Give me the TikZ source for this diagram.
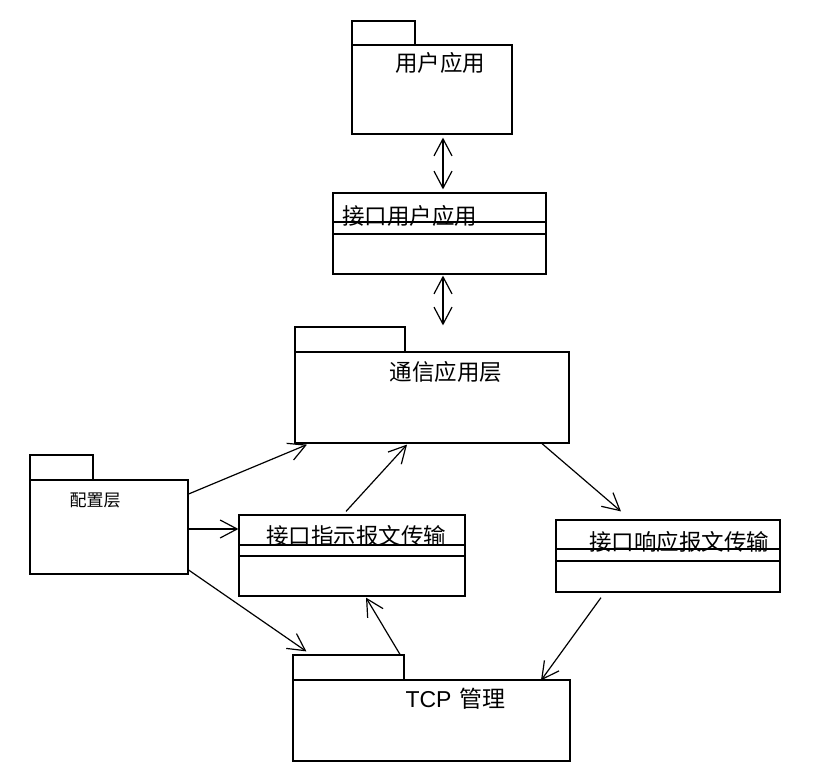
\documentclass[tikz,border=0pt]{standalone}
\usepackage{fontspec}
\setmainfont{Liberation Sans}
\newfontfamily\cjk{Noto Sans CJK SC}
\usetikzlibrary{arrows.meta}
\tikzset{
  box/.style={draw, line width=1.2pt, inner sep=0pt, fill=white},
  lbl/.style={inner sep=0pt, font=\cjk\fontsize{22.5}{26}\selectfont},
  small/.style={inner sep=0pt, font=\cjk\fontsize{17}{20}\selectfont},
  conn/.style={line width=1.2pt, -{Straight Barb[length=17pt,width=18pt,line width=1.2pt]}},
  dconn/.style={line width=1.2pt, {Straight Barb[length=17pt,width=18pt,line width=1.2pt]}-{Straight Barb[length=17pt,width=18pt,line width=1.2pt]}},
  sep/.style={line width=1.2pt}
}
\begin{document}
\begin{tikzpicture}[x=1pt,y=-1pt]
\useasboundingbox (0,0) rectangle (814,781);

% user app package
\node[box, minimum width=63pt, minimum height=24pt] (uatab) at (383.5,33) {};
\node[box, minimum width=160pt, minimum height=89pt] (ua) at (432,89.5) {};
\node[lbl] (uat) at (440,63) {用户应用};

% interface user app class
\node[box, minimum width=213pt, minimum height=81pt] (iua) at (439.5,233.5) {};
\draw[sep] (iua.west |- 0,222) -- (iua.east |- 0,222);
\draw[sep] (iua.west |- 0,234) -- (iua.east |- 0,234);
\node[lbl] (iuat) at (409.5,216) {接口用户应用};

% communication layer package
\node[box, minimum width=110pt, minimum height=25pt] (commtab) at (350,339.5) {};
\node[box, minimum width=274pt, minimum height=91pt] (comm) at (432,397.5) {};
\node[lbl] (commt) at (446,372) {通信应用层};

% config layer package
\node[box, minimum width=63pt, minimum height=25pt] (cfgtab) at (61.5,467.5) {};
\node[box, minimum width=158pt, minimum height=94pt] (cfg) at (109,527) {};
\node[small] (cfgt) at (95,500) {配置层};

% indication class
\node[box, minimum width=226pt, minimum height=81pt] (ind) at (352,555.5) {};
\draw[sep] (ind.west |- 0,545) -- (ind.east |- 0,545);
\draw[sep] (ind.west |- 0,556) -- (ind.east |- 0,556);
\node[lbl] (indt) at (356,536) {接口指示报文传输};

% response class
\node[box, minimum width=224pt, minimum height=72pt] (rsp) at (668,556) {};
\draw[sep] (rsp.west |- 0,549) -- (rsp.east |- 0,549);
\draw[sep] (rsp.west |- 0,561) -- (rsp.east |- 0,561);
\node[lbl] (rspt) at (679,542) {接口响应报文传输};

% TCP package
\node[box, minimum width=111pt, minimum height=25pt] (tcptab) at (348.5,667.5) {};
\node[box, minimum width=277pt, minimum height=81pt] (tcp) at (431.5,720.5) {};
\node[inner sep=0pt, font=\fontsize{23}{27}\selectfont] (tcpt) at (455.5,699) {TCP\hspace{8pt}{\cjk 管理}};

% connectors
\draw[dconn] ([xshift=11pt,yshift=-3pt]ua.south) -- ([xshift=3.5pt,yshift=3pt]iua.north);
\draw[dconn] ([xshift=3.5pt,yshift=-1pt]iua.south) -- ([xshift=11pt,yshift=26pt]comm.north);
\draw[conn] ([yshift=33pt]cfg.east) -- ([xshift=-125pt,yshift=-1pt]comm.south);
\draw[conn] ([yshift=-2pt]cfg.east) -- ([yshift=26.5pt]ind.west);
\draw[conn] ([yshift=-43pt]cfg.east) -- ([xshift=14pt,yshift=3pt]tcptab.north west);
\draw[conn] ([xshift=-6pt,yshift=3pt]ind.north) -- ([xshift=-25pt,yshift=-1pt]comm.south);
\draw[conn] ([xshift=110pt]comm.south) -- ([xshift=-47pt,yshift=8pt]rsp.north);
\draw[conn] ([xshift=-67pt,yshift=-5pt]rsp.south) -- ([xshift=109.5pt,yshift=-1pt]tcp.north);
\draw[conn] ([xshift=51.5pt]tcptab.north) -- ([xshift=14pt,yshift=-1pt]ind.south);
\end{tikzpicture}
\end{document}
